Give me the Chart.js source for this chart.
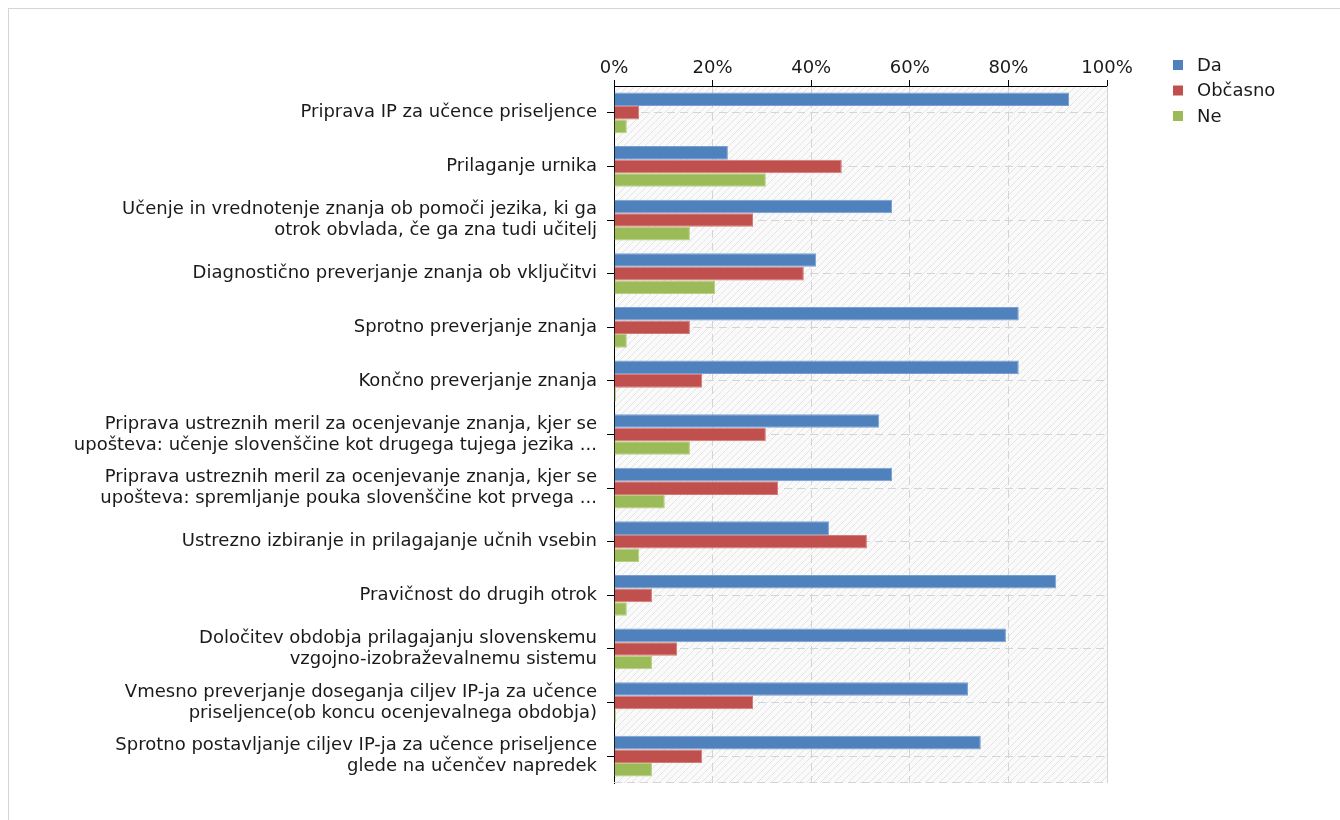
<!DOCTYPE html>
<html lang="sl">
<head>
<meta charset="utf-8">
<title>Prilagoditve za učence priseljence</title>
<script src="https://cdn.jsdelivr.net/npm/chart.js@4/dist/chart.umd.min.js"></script>
<style>
  html, body { margin: 0; padding: 0; background: #fff; }
  #wrap { position: relative; width: 1340px; height: 820px; overflow: hidden; }
  #frame {
    position: absolute; left: 8px; top: 8px; width: 1400px; height: 900px;
    border: 1px solid #d4d4d4; box-sizing: border-box;
  }
  #chart { position: absolute; left: 0; top: 0; }
</style>
</head>
<body>
<div id="wrap">
  <div id="frame"></div>
  <canvas id="chart" width="1340" height="820"></canvas>
</div>
<script>
// kategorije (oznake na osi y)
const categories = [
  'Priprava IP za učence priseljence',
  'Prilaganje urnika',
  ['Učenje in vrednotenje znanja ob pomoči jezika, ki ga', 'otrok obvlada, če ga zna tudi učitelj'],
  'Diagnostično preverjanje znanja ob vključitvi',
  'Sprotno preverjanje znanja',
  'Končno preverjanje znanja',
  ['Priprava ustreznih meril za ocenjevanje znanja, kjer se', 'upošteva: učenje slovenščine kot drugega tujega jezika ...'],
  ['Priprava ustreznih meril za ocenjevanje znanja, kjer se', 'upošteva: spremljanje pouka slovenščine kot prvega ...'],
  'Ustrezno izbiranje in prilagajanje učnih vsebin',
  'Pravičnost do drugih otrok',
  ['Določitev obdobja prilagajanju slovenskemu', 'vzgojno-izobraževalnemu sistemu'],
  ['Vmesno preverjanje doseganja ciljev IP-ja za učence', 'priseljence(ob koncu ocenjevalnega obdobja)'],
  ['Sprotno postavljanje ciljev IP-ja za učence priseljence', 'glede na učenčev napredek']
];

// deleži odgovorov (%)
const da       = [92.3, 23.1, 56.4, 41.0, 82.1, 82.1, 53.8, 56.4, 43.6, 89.7, 79.5, 71.8, 74.4];
const obcasno  = [5.1, 46.2, 28.2, 38.5, 15.4, 17.9, 30.8, 33.3, 51.3, 7.7, 12.8, 28.2, 17.9];
const ne       = [2.6, 30.8, 15.4, 20.5, 2.6, 0, 15.4, 10.3, 5.1, 2.6, 7.7, 0, 7.7];

const seriesNames = ['Da', 'Občasno', 'Ne'];
const xTicks = [0, 20, 40, 60, 80, 100];

const FONT = 'DejaVu Sans';
const TEXT = '#1a1a1a';
const GRID = '#d4d4d4';

/**
 * Šrafirano ozadje risalne površine (diagonalne črte).
 */
function makeHatch(ctx) {
  const c = document.createElement('canvas');
  c.width = 7; c.height = 7;
  const g = c.getContext('2d');
  g.fillStyle = '#fafafa';
  g.fillRect(0, 0, 7, 7);
  g.strokeStyle = '#e4e4e4';
  g.lineWidth = 1;
  g.beginPath();
  g.moveTo(-1, 8); g.lineTo(8, -1);
  g.stroke();
  return ctx.createPattern(c, 'repeat');
}

const plotBackground = {
  id: 'plotBackground',
  beforeDraw(chart) {
    const { ctx, chartArea: a } = chart;
    ctx.save();
    ctx.fillStyle = makeHatch(ctx);
    ctx.fillRect(a.left, a.top, a.right - a.left, a.bottom - a.top);
    ctx.restore();
  },
  beforeDatasetsDraw(chart) {
    // desni in spodnji rob risalne površine
    const { ctx, chartArea: a } = chart;
    ctx.save();
    ctx.strokeStyle = GRID;
    ctx.lineWidth = 1;
    ctx.setLineDash([8, 5]);
    ctx.beginPath();
    ctx.moveTo(a.left, a.bottom - 0.5);
    ctx.lineTo(a.right, a.bottom - 0.5);
    ctx.stroke();
    ctx.setLineDash([]);
    ctx.beginPath();
    ctx.moveTo(a.right + 0.5, a.top);
    ctx.lineTo(a.right + 0.5, a.bottom);
    ctx.stroke();
    ctx.restore();
  }
};

// legenda desno zgoraj
const sideLegend = {
  id: 'sideLegend',
  afterDraw(chart) {
    const { ctx } = chart;
    ctx.save();
    ctx.font = '18px "' + FONT + '"';
    ctx.textBaseline = 'middle';
    ctx.textAlign = 'left';
    chart.data.datasets.forEach((ds, i) => {
      const y = 65 + i * 25.5;
      ctx.fillStyle = ds.backgroundColor;
      ctx.fillRect(1173, y - 5, 10, 10);
      ctx.fillStyle = TEXT;
      ctx.fillText(ds.label, 1197, y + 1);
    });
    ctx.restore();
  }
};

function dataset(label, data, color, edge) {
  return {
    label,
    data,
    backgroundColor: color,
    borderColor: edge,
    borderWidth: 1,
    borderSkipped: 'start',
    minBarLength: 2,
    categoryPercentage: 0.76,
    barPercentage: 1.0
  };
}

const chart = new Chart(document.getElementById('chart'), {
  type: 'bar',
  data: {
    labels: categories,
    datasets: [
      dataset(seriesNames[0], da, '#4f81bd', '#7aa0d3'),
      dataset(seriesNames[1], obcasno, '#c0504d', '#d77a77'),
      dataset(seriesNames[2], ne, '#9bbb59', '#b6d07f')
    ]
  },
  options: {
    indexAxis: 'y',
    responsive: false,
    animation: false,
    layout: { padding: { left: 0, right: 233, top: 0, bottom: 37 } },
    plugins: {
      legend: { display: false },
      tooltip: { enabled: false }
    },
    scales: {
      x: {
        type: 'linear',
        position: 'top',
        min: 0,
        max: 100,
        afterBuildTicks: scale => { scale.ticks = xTicks.map(v => ({ value: v })); },
        afterFit: scale => { scale.height = 86; },
        ticks: {
          callback: v => v + '%',
          font: { family: FONT, size: 18 },
          color: TEXT,
          padding: 1,
          maxRotation: 0
        },
        grid: {
          color: GRID,
          tickColor: '#000',
          tickLength: 6,
          tickBorderDash: []
        },
        border: { display: true, color: '#000', width: 1, dash: [8, 5] }
      },
      y: {
        type: 'category',
        afterFit: scale => { scale.width = 614; },
        ticks: {
          font: { family: FONT, size: 18, lineHeight: 1.17 },
          color: TEXT,
          padding: 10,
          autoSkip: false
        },
        grid: {
          offset: false,
          color: GRID,
          tickColor: '#000',
          tickLength: 7,
          tickBorderDash: []
        },
        border: { display: true, color: '#000', width: 1, dash: [8, 5] }
      }
    }
  },
  plugins: [plotBackground, sideLegend]
});
</script>
</body>
</html>
